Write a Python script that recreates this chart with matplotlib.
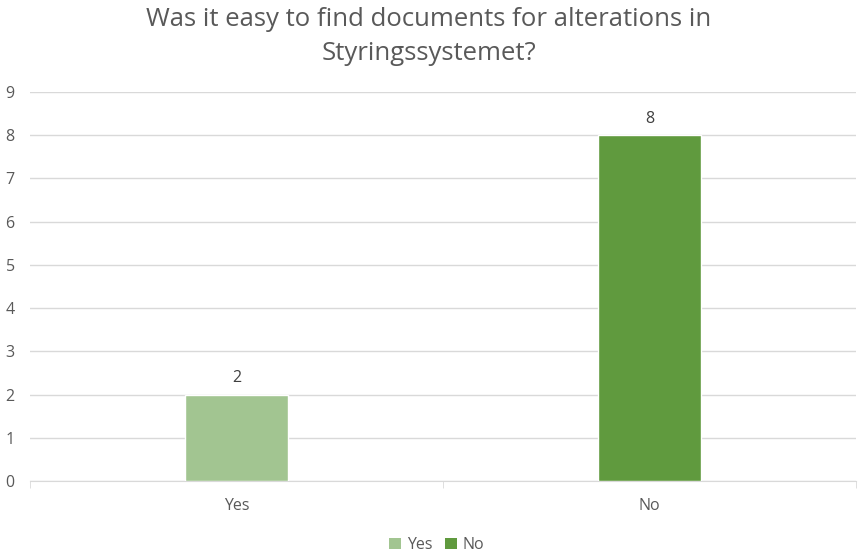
import matplotlib
matplotlib.use('Agg')
import matplotlib.pyplot as plt
from matplotlib.patches import Patch

# survey answers
categories = ['Yes', 'No']
counts = [2, 8]
colors = ['#A2C591', '#609A3E']

plt.rcParams['font.family'] = ['Open Sans', 'DejaVu Sans']
text_color = '#595959'

fig = plt.figure(figsize=(8.58, 5.56), dpi=100)
ax = fig.add_axes([30 / 858, 1 - 481 / 556, 826 / 858, 389 / 556])

x = list(range(len(categories)))
bars = ax.bar(x, counts, width=0.25, color=colors, edgecolor='white', linewidth=1, zorder=3)

for b, v in zip(bars, counts):
    ax.text(b.get_x() + b.get_width() / 2, v + 0.2, str(v), ha='center', va='bottom',
            fontsize=11.5, color='#404040')

ax.set_xlim(-0.5, 1.5)
ax.set_ylim(0, 9)
ax.set_yticks(range(10))
ax.yaxis.grid(True, color='#D9D9D9', linewidth=1, zorder=0)
ax.set_axisbelow(True)

for s in ['top', 'right', 'left']:
    ax.spines[s].set_visible(False)
ax.spines['bottom'].set_color('#D9D9D9')

ax.tick_params(axis='y', length=0, labelsize=11.5, labelcolor=text_color, pad=11)
ax.set_xticks(x)
ax.set_xticklabels(categories)
ax.tick_params(axis='x', length=0, labelsize=11.5, labelcolor=text_color, pad=12)

# category separator ticks below the axis
ax.set_xticks([-0.5, 0.5, 1.5], minor=True)
ax.tick_params(axis='x', which='minor', length=5, color='#D9D9D9')

fig.text(0.5, 0.988, 'Was it easy to find documents for alterations in\nStyringssystemet?',
         ha='center', va='top', fontsize=18.5, color=text_color, linespacing=1.5)

handles = [Patch(facecolor=c, label=l) for c, l in zip(colors, categories)]
fig.legend(handles=handles, loc='center', bbox_to_anchor=(437 / 858, 1 - 545 / 556), ncol=2,
           frameon=False, fontsize=11.5, labelcolor=text_color, handlelength=0.7,
           handleheight=0.7, handletextpad=0.4, columnspacing=0.8)

fig.savefig('out.png', dpi=100, facecolor='white')
